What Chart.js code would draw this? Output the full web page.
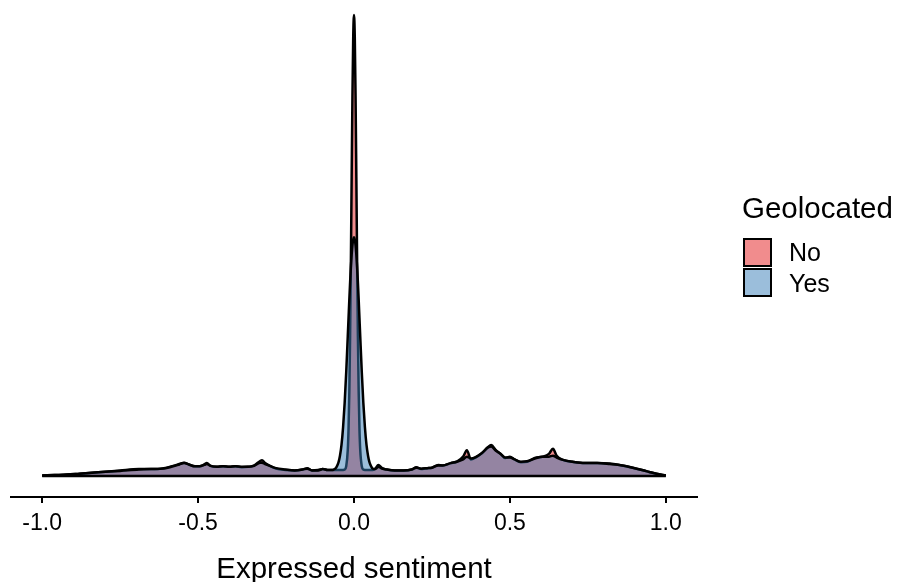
<!DOCTYPE html>
<html>
<head>
<meta charset="utf-8">
<script src="https://cdn.jsdelivr.net/npm/chart.js@4.4.1/dist/chart.umd.min.js"></script>
<style>
  html, body { margin: 0; padding: 0; background: #ffffff; }
  #wrap { width: 898px; height: 582px; position: relative; }
</style>
</head>
<body>
<div id="wrap"><canvas id="c" width="898" height="582"></canvas></div>
<script>
// ---- data ----
const sentiment = [
  -1.00, -0.96, -0.92, -0.88, -0.82, -0.75, -0.69, -0.65, -0.61, -0.58,
  -0.56, -0.545, -0.53, -0.51, -0.495, -0.48, -0.472, -0.46, -0.44, -0.42,
  -0.40, -0.38, -0.36, -0.34, -0.32, -0.30, -0.295, -0.285, -0.27, -0.25,
  -0.22, -0.19, -0.165, -0.15, -0.135, -0.115, -0.10, -0.085, -0.07, -0.065,
  -0.06, -0.055, -0.05, -0.045, -0.04, -0.035, -0.03, -0.025, -0.02, -0.0175,
  -0.015, -0.0125, -0.01, -0.0075, -0.005, -0.0025, 0, 0.0025, 0.005, 0.0075,
  0.01, 0.0125, 0.015, 0.0175, 0.02, 0.025, 0.03, 0.035, 0.04, 0.045,
  0.05, 0.055, 0.06, 0.065, 0.07, 0.078, 0.09, 0.105, 0.13, 0.16,
  0.185, 0.20, 0.215, 0.235, 0.25, 0.27, 0.285, 0.31, 0.33, 0.35,
  0.362, 0.375, 0.39, 0.41, 0.43, 0.44, 0.455, 0.47, 0.485, 0.50,
  0.515, 0.535, 0.555, 0.58, 0.605, 0.625, 0.638, 0.65, 0.67, 0.70,
  0.74, 0.78, 0.82, 0.86, 0.90, 0.94, 0.97, 1.00
];
const densityNo = [
  0.01, 0.02, 0.03, 0.05, 0.08, 0.12, 0.15, 0.15, 0.17, 0.22,
  0.26, 0.29, 0.25, 0.21, 0.21, 0.25, 0.28, 0.22, 0.20, 0.21,
  0.20, 0.21, 0.19, 0.20, 0.23, 0.33, 0.34, 0.28, 0.22, 0.16,
  0.13, 0.12, 0.14, 0.17, 0.12, 0.13, 0.15, 0.13, 0.13, 0.13,
  0.13, 0.13, 0.13, 0.13, 0.13, 0.13, 0.14, 0.21, 0.56, 1.03,
  1.83, 3.04, 4.65, 6.49, 8.25, 9.53, 10.00, 9.53, 8.25, 6.49,
  4.65, 3.04, 1.83, 1.03, 0.56, 0.21, 0.14, 0.13, 0.13, 0.13,
  0.13, 0.13, 0.13, 0.14, 0.17, 0.24, 0.17, 0.14, 0.12, 0.12,
  0.14, 0.19, 0.15, 0.17, 0.18, 0.24, 0.23, 0.28, 0.31, 0.42,
  0.56, 0.36, 0.40, 0.49, 0.63, 0.67, 0.56, 0.48, 0.39, 0.42,
  0.36, 0.30, 0.31, 0.39, 0.42, 0.48, 0.59, 0.44, 0.35, 0.31,
  0.28, 0.28, 0.27, 0.23, 0.17, 0.10, 0.05, 0.01
];
const densityYes = [
  0.01, 0.02, 0.03, 0.05, 0.08, 0.11, 0.14, 0.15, 0.16, 0.21,
  0.25, 0.28, 0.25, 0.21, 0.21, 0.24, 0.26, 0.22, 0.20, 0.21,
  0.20, 0.21, 0.20, 0.20, 0.22, 0.29, 0.29, 0.26, 0.22, 0.17,
  0.14, 0.12, 0.14, 0.16, 0.12, 0.12, 0.15, 0.13, 0.13, 0.14,
  0.16, 0.21, 0.29, 0.44, 0.68, 1.06, 1.58, 2.25, 3.03, 3.43,
  3.83, 4.20, 4.53, 4.80, 5.01, 5.13, 5.18, 5.13, 5.01, 4.80,
  4.53, 4.20, 3.83, 3.43, 3.03, 2.25, 1.58, 1.06, 0.68, 0.44,
  0.29, 0.21, 0.16, 0.15, 0.16, 0.20, 0.16, 0.14, 0.12, 0.12,
  0.14, 0.18, 0.16, 0.17, 0.18, 0.23, 0.23, 0.28, 0.31, 0.36,
  0.42, 0.38, 0.41, 0.50, 0.62, 0.64, 0.55, 0.48, 0.40, 0.40,
  0.36, 0.31, 0.32, 0.38, 0.42, 0.42, 0.44, 0.40, 0.35, 0.31,
  0.28, 0.28, 0.26, 0.23, 0.17, 0.10, 0.05, 0.01
];
const baselineX = [-1.0, 1.0];
const baselineY = [0, 0];
const tickValues = [-1.0, -0.5, 0.0, 0.5, 1.0];
const tickLabels = ["-1.0", "-0.5", "0.0", "0.5", "1.0"];
const legendTitle = "Geolocated";
const groupNames = ["No", "Yes"];
const xTitle = "Expressed sentiment";

// ---- build chart ----
const FONT = "'Liberation Sans', Arial, Helvetica, sans-serif";
const fillNo = 'rgba(228,26,28,0.5)';
const fillYes = 'rgba(55,126,184,0.5)';

const toPts = (xs, ys) => xs.map((x, i) => ({ x: x, y: ys[i] }));

const legendPlugin = {
  id: 'ggLegend',
  afterDraw(chart) {
    const ctx = chart.ctx;
    ctx.save();
    ctx.fillStyle = '#000';
    ctx.font = '29.5px ' + FONT;
    ctx.textBaseline = 'alphabetic';
    ctx.textAlign = 'left';
    ctx.fillText(legendTitle, 742, 218);
    const fills = [fillNo, fillYes];
    const boxY = [238, 268];
    const labY = [261, 292];
    for (let i = 0; i < groupNames.length; i++) {
      ctx.fillStyle = '#ffffff';
      ctx.fillRect(743, boxY[i], 29, 29);
      ctx.fillStyle = fills[i];
      ctx.fillRect(743, boxY[i], 29, 29);
      ctx.strokeStyle = '#000';
      ctx.lineWidth = 2;
      ctx.strokeRect(744, boxY[i] + 1, 27, 27);
      ctx.fillStyle = '#000';
      ctx.font = '25px ' + FONT;
      ctx.fillText(groupNames[i], 789, labY[i]);
    }
    ctx.restore();
  }
};

new Chart(document.getElementById('c'), {
  type: 'line',
  data: {
    datasets: [
      {
        label: groupNames[0],
        data: toPts(sentiment, densityNo),
        borderColor: '#000',
        borderWidth: 2.5,
        backgroundColor: fillNo,
        fill: 'origin',
        pointRadius: 0,
        cubicInterpolationMode: 'monotone',
        order: 3
      },
      {
        label: groupNames[1],
        data: toPts(sentiment, densityYes),
        borderColor: '#000',
        borderWidth: 2.5,
        backgroundColor: fillYes,
        fill: 'origin',
        pointRadius: 0,
        cubicInterpolationMode: 'monotone',
        order: 2
      },
      {
        label: 'baseline',
        data: toPts(baselineX, baselineY),
        borderColor: '#000',
        borderWidth: 2.5,
        fill: false,
        pointRadius: 0,
        order: 1
      }
    ]
  },
  options: {
    responsive: false,
    animation: false,
    devicePixelRatio: 1,
    layout: { padding: { left: 11, right: 201, top: 5, bottom: 0 } },
    plugins: { legend: { display: false }, tooltip: { enabled: false } },
    scales: {
      x: {
        type: 'linear',
        min: -1.1,
        max: 1.1,
        afterBuildTicks: (s) => { s.ticks = tickValues.map(v => ({ value: v })); },
        afterFit: (s) => { s.height = 85; },
        ticks: {
          autoSkip: false,
          maxRotation: 0,
          padding: 7,
          color: '#000',
          font: { family: FONT, size: 23 },
          callback: (v, i) => tickLabels[i]
        },
        grid: {
          display: true,
          drawOnChartArea: false,
          drawTicks: true,
          tickLength: 6,
          color: '#000',
          lineWidth: 2
        },
        border: { display: true, color: '#000', width: 2 },
        title: {
          display: true,
          text: xTitle,
          color: '#000',
          font: { family: FONT, size: 29.5, lineHeight: 0.8 },
          padding: { top: 0, bottom: 0 }
        }
      },
      y: {
        type: 'linear',
        display: false,
        min: -0.4555,
        max: 10.217
      }
    }
  },
  plugins: [legendPlugin]
});
</script>
</body>
</html>
